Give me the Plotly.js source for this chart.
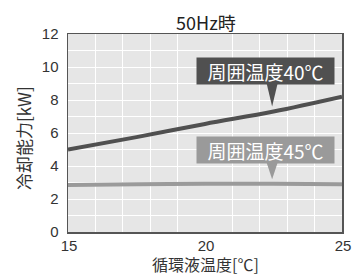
<!DOCTYPE html>
<html><head><meta charset="utf-8">
<script src="https://cdn.plot.ly/plotly-3.0.1.min.js"></script>
<style>body{margin:0;background:#fff}#c{width:352px;height:277px}</style>
</head><body><div id="c"></div>
<script>
const temps = [15, 17.5, 20, 22.5, 25];
const cap40 = [5.0, 5.75, 6.55, 7.3, 8.2];
const cap45 = [2.85, 2.9, 2.92, 2.92, 2.9];
const label40 = '周囲温度40℃';
const label45 = '周囲温度45℃';
const titleText = '50Hz時';
const xTitle = '循環液温度[℃]';
const yTitle = '冷却能力[kW]';

const F = 'Liberation Sans, Arial, Noto Sans CJK JP, sans-serif';
const J = 'Noto Sans CJK JP, sans-serif';
const traces = [
  {x: temps, y: cap40, mode: 'lines', line: {color: '#505050', width: 4, shape: 'spline'}, hoverinfo: 'skip'},
  {x: temps, y: cap45, mode: 'lines', line: {color: '#9a9a9a', width: 4, shape: 'spline'}, hoverinfo: 'skip'}
];
function callout(text, cx, cy, color) {
  return {x: cx, y: cy, xref: 'x', yref: 'y', text: text, showarrow: false,
    bgcolor: color, width: 135, height: 24, borderpad: 1,
    font: {family: J, size: 19, color: '#ffffff'}};
}
function pointer(xc, yb, yt, color) {
  const hw = 0.2;
  return {type: 'path', xref: 'x', yref: 'y', fillcolor: color, line: {width: 0},
    path: `M ${xc-hw},${yb} L ${xc+hw},${yb} L ${xc},${yt} Z`};
}
const layout = {
  width: 352, height: 277,
  margin: {l: 68, r: 10, t: 34, b: 45},
  paper_bgcolor: '#ffffff', plot_bgcolor: '#e6e6e6',
  showlegend: false,
  title: {text: titleText, font: {family: J, size: 18, color: '#222'}, x: 0.585, xanchor: 'center', y: 0.915, yanchor: 'middle'},
  xaxis: {range: [15, 25], dtick: 5, tick0: 15, showgrid: false, zeroline: false,
    minor: {dtick: 1, showgrid: true, gridcolor: '#ffffff', gridwidth: 1, ticks: ''},
    showline: true, mirror: true, linecolor: '#555555', linewidth: 1.5, ticks: '',
    ticklabeloverflow: 'allow', ticklabelstandoff: -1, ticklabelshift: 1,
    tickfont: {family: F, size: 15, color: '#333'}},
  yaxis: {range: [0, 12], dtick: 2, showgrid: true, gridcolor: '#ffffff', gridwidth: 1, zeroline: false,
    minor: {dtick: 1, showgrid: true, gridcolor: '#ffffff', gridwidth: 1, ticks: ''},
    showline: true, mirror: true, linecolor: '#555555', linewidth: 1.5, ticks: '',
    ticklabeloverflow: 'allow', ticklabelstandoff: 5,
    tickfont: {family: F, size: 15, color: '#333'}},
  annotations: [
    callout(label40, 22.21, 9.78, '#505050'),
    callout(label45, 22.21, 5.0, '#9a9a9a'),
    {text: xTitle, xref: 'paper', yref: 'paper', x: 0.5, y: -0.163, xanchor: 'center', yanchor: 'middle', showarrow: false,
      borderpad: 0, font: {family: J, size: 16, color: '#333'}},
    {text: yTitle, xref: 'paper', yref: 'paper', x: -0.16, y: 0.475, xanchor: 'center', yanchor: 'middle', showarrow: false, textangle: -90,
      font: {family: J, size: 17, color: '#333'}}
  ],
  shapes: [
    pointer(22.45, 9.0, 7.6, '#505050'),
    pointer(22.45, 4.2, 3.2, '#9a9a9a')
  ]
};
Plotly.newPlot('c', traces, layout, {staticPlot: true, displayModeBar: false});
</script></body></html>
